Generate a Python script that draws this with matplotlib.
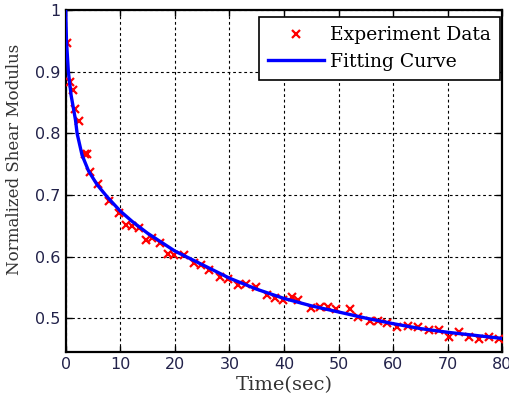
import numpy as np
import matplotlib
matplotlib.use("Agg")
import matplotlib.pyplot as plt

# experiment data
t_exp = [0.25, 0.85, 1.3, 1.65, 2.4, 3.5, 3.9, 4.5, 5.9, 7.9, 9.8, 11.0, 12.2, 13.5,
         14.7, 15.9, 17.2, 18.7, 19.9, 21.7, 23.6, 24.8, 26.3, 28.2, 29.7, 31.6,
         33.1, 34.8, 36.8, 38.3, 39.8, 41.4, 42.6, 45.0, 46.6, 48.1, 49.6, 52.1,
         53.6, 55.8, 57.3, 58.8, 60.7, 62.8, 64.6, 66.5, 68.3, 70.2, 72.0, 73.8,
         75.7, 77.5, 79.4]
g_exp = [0.947, 0.884, 0.870, 0.839, 0.820, 0.767, 0.767, 0.737, 0.718, 0.690, 0.671,
         0.652, 0.649, 0.646, 0.627, 0.630, 0.622, 0.605, 0.603, 0.602, 0.589, 0.586,
         0.578, 0.567, 0.564, 0.554, 0.555, 0.550, 0.537, 0.532, 0.529, 0.534, 0.529,
         0.516, 0.518, 0.518, 0.515, 0.515, 0.502, 0.496, 0.496, 0.492, 0.485, 0.488,
         0.485, 0.480, 0.480, 0.469, 0.477, 0.469, 0.466, 0.469, 0.466]

# fitted curve
t_fit = [0, 0.15, 0.5, 1.0, 1.8, 2.1, 3.0, 4.2, 5.75, 7.6, 10, 12.2, 15, 20, 25, 30,
         35, 40, 45, 50, 55, 60, 65, 70, 75, 80]
g_fit = [1.0, 0.95, 0.90, 0.862, 0.822, 0.80, 0.765, 0.739, 0.717, 0.697, 0.674,
         0.657, 0.638, 0.609, 0.587, 0.565, 0.547, 0.532, 0.520, 0.510, 0.500,
         0.491, 0.483, 0.477, 0.472, 0.467]

x_ticks = [0, 10, 20, 30, 40, 50, 60, 70, 80]
y_ticks = [0.5, 0.6, 0.7, 0.8, 0.9, 1.0]
y_labels = ['0.5', '0.6', '0.7', '0.8', '0.9', '1']

serif = ['DejaVu Serif']
tick_col = '#22224a'

fig = plt.figure(figsize=(5.09, 4.0), dpi=100)
ax = fig.add_axes([0.129, 0.12, 0.858, 0.854])

ax.plot(t_exp, g_exp, 'x', color='red', ms=5.5, mew=1.6, label='Experiment Data', zorder=3)
ax.plot(t_fit, g_fit, '-', color='blue', lw=2.4, label='Fitting Curve', zorder=4)

ax.set_xlim(0, 80)
ax.set_ylim(0.445, 1.0)
ax.set_xticks(x_ticks)
ax.set_yticks(y_ticks)
ax.set_yticklabels(y_labels)
ax.tick_params(direction='in', top=True, right=True, length=4, width=1,
               labelsize=11.5, colors='black', labelcolor=tick_col)
ax.grid(True, color='black', linestyle=(0, (2.5, 2.5)), linewidth=0.8)
for s in ax.spines.values():
    s.set_linewidth(1.6)

ax.set_xlabel('Time(sec)', fontsize=14, family=serif, color='#333333', labelpad=3)
ax.set_ylabel('Normalized Shear Modulus', fontsize=12, family=serif, color='#333333')
ax.yaxis.set_label_coords(-0.098, 0.565)

leg = ax.legend(loc='upper right', bbox_to_anchor=(0.995, 0.981), borderaxespad=0,
                fancybox=False, edgecolor='black', framealpha=1,
                prop={'family': serif, 'size': 13.5},
                handlelength=3.0, handletextpad=0.3, borderpad=0.5, labelspacing=0.45)
leg.get_frame().set_linewidth(1.2)

fig.savefig('out.png', dpi=100)
